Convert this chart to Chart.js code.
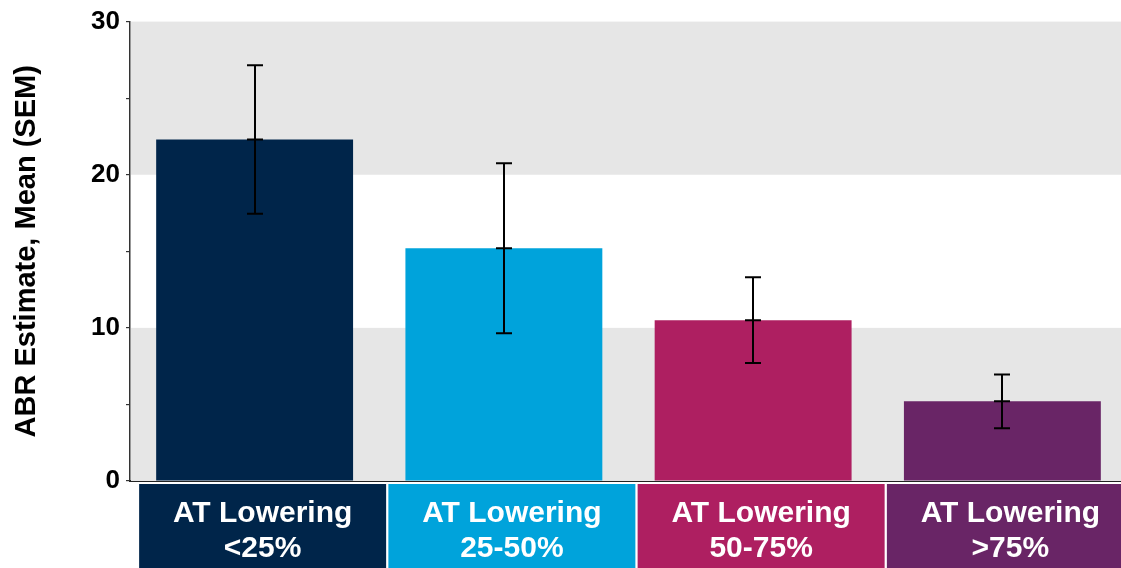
<!DOCTYPE html>
<html>
<head>
<meta charset="utf-8">
<script src="https://cdn.jsdelivr.net/npm/chart.js@4/dist/chart.umd.min.js"></script>
<style>
  html, body { margin: 0; padding: 0; background: #fff; overflow: hidden; }
  #wrap { width: 1127px; height: 568px; position: relative; }
</style>
</head>
<body>
<div id="wrap"><canvas id="abrChart"></canvas></div>
<script>
// ---- data ----
const categories = ["AT Lowering <25%", "AT Lowering 25-50%", "AT Lowering 50-75%", "AT Lowering >75%"];
const labelLines = [["AT Lowering", "<25%"], ["AT Lowering", "25-50%"], ["AT Lowering", "50-75%"], ["AT Lowering", ">75%"]];
const abrMean = [22.3, 15.2, 10.5, 5.2];
const abrSem = [4.85, 5.55, 2.8, 1.75];
const barColors = ["#00254a", "#00a3db", "#ae1f61", "#692566"];
const bandRanges = [[0, 10], [20, 30]];

const FONT = "'Liberation Sans', Arial, sans-serif";

// grey bands behind the bars
const bandsPlugin = {
  id: "bands",
  beforeDatasetsDraw(chart) {
    const { ctx, chartArea, scales } = chart;
    ctx.save();
    ctx.fillStyle = "#e6e6e6";
    bandRanges.forEach(([lo, hi]) => {
      const yTop = scales.y.getPixelForValue(hi);
      const yBot = scales.y.getPixelForValue(lo);
      ctx.fillRect(chartArea.left + 1, yTop, chartArea.right - chartArea.left, yBot - yTop);
    });
    ctx.restore();
  }
};

// SEM whiskers, with a cap at the mean too
const errorBarPlugin = {
  id: "errorBars",
  afterDatasetsDraw(chart) {
    const { ctx, scales } = chart;
    ctx.save();
    ctx.strokeStyle = "#000";
    ctx.lineWidth = 2;
    abrMean.forEach((m, i) => {
      const x = Math.round(scales.x.getPixelForValue(i));
      const yHi = scales.y.getPixelForValue(m + abrSem[i]);
      const yMid = scales.y.getPixelForValue(m);
      const yLo = scales.y.getPixelForValue(m - abrSem[i]);
      ctx.beginPath();
      ctx.moveTo(x, yHi);
      ctx.lineTo(x, yLo);
      [yHi, yMid, yLo].forEach(yy => {
        ctx.moveTo(x - 8, yy);
        ctx.lineTo(x + 8, yy);
      });
      ctx.stroke();
    });
    ctx.restore();
  }
};

// coloured category boxes under the axis
const categoryBoxPlugin = {
  id: "categoryBoxes",
  afterDraw(chart) {
    const { ctx, chartArea, scales } = chart;
    const top = chartArea.bottom + 3;
    ctx.save();
    categories.forEach((c, i) => {
      const cx = scales.x.getPixelForValue(i) + 8;
      ctx.fillStyle = barColors[i];
      ctx.fillRect(cx - 123.5, top, 247, chart.height - top);
      ctx.fillStyle = "#fff";
      ctx.font = "bold 30px " + FONT;
      ctx.textAlign = "center";
      ctx.textBaseline = "alphabetic";
      ctx.fillText(labelLines[i][0], cx, chartArea.bottom + 41);
      ctx.fillText(labelLines[i][1], cx, chartArea.bottom + 76);
    });
    ctx.restore();
  }
};

new Chart(document.getElementById("abrChart"), {
  type: "bar",
  data: {
    labels: categories,
    datasets: [{
      data: abrMean,
      backgroundColor: barColors,
      borderWidth: 0,
      categoryPercentage: 1,
      barPercentage: 0.79
    }]
  },
  options: {
    responsive: true,
    maintainAspectRatio: false,
    animation: false,
    layout: { padding: { top: 16, right: 0, bottom: 79, left: 0 } },
    plugins: {
      legend: { display: false },
      tooltip: { enabled: false }
    },
    scales: {
      x: {
        grid: { display: false },
        ticks: { display: false },
        border: { color: "#222", width: 2 }
      },
      y: {
        min: 0,
        max: 30,
        afterFit(scale) { scale.width = 130; },
        border: { color: "#333", width: 1.5 },
        grid: { drawOnChartArea: false, tickLength: 4, color: "#333", lineWidth: 1.2 },
        ticks: {
          stepSize: 5,
          padding: 6,
          color: "#000",
          font: { family: FONT, size: 26, weight: "bold" },
          callback: v => (v % 10 === 0 ? v : "")
        },
        title: {
          display: true,
          text: "ABR Estimate, Mean (SEM)",
          color: "#000",
          font: { family: FONT, size: 29, weight: "bold" },
          padding: { top: 10, bottom: 0 }
        }
      }
    }
  },
  plugins: [bandsPlugin, errorBarPlugin, categoryBoxPlugin]
});
</script>
</body>
</html>
